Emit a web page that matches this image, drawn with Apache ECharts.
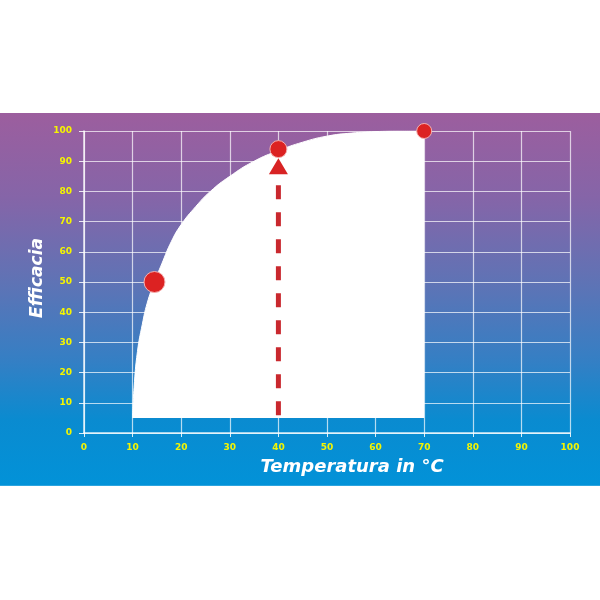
<!DOCTYPE html>
<html><head><meta charset="utf-8">
<script src="https://cdn.jsdelivr.net/npm/echarts@6/dist/echarts.min.js"></script>
<style>html,body{margin:0;padding:0;background:#fff}#c{width:600px;height:600px}</style>
</head><body><div id="c"></div>
<script>
var xTicks = [0,10,20,30,40,50,60,70,80,90,100];
var yTicks = [0,10,20,30,40,50,60,70,80,90,100];
var curveX = [10, 10.3, 11, 12, 13, 14.5, 16, 18, 20, 23, 26, 30, 35, 40, 45, 50, 55, 60, 65, 70];
var curveY = [5, 15, 27, 36, 43, 50, 56, 63.5, 69, 75, 80, 85, 90, 93.5, 96.3, 98.3, 99.3, 99.8, 100, 100];
var dotX = [14.5, 40, 70];
var dotY = [50, 94, 100];
var dotSize = [21, 17, 15];
var arrowX = [40, 40];
var arrowY = [82, 5];
var arrowHeadY = 88.3;
var curveBase = 5;

var chart = echarts.init(document.getElementById('c'));
var curve = curveX.map(function(x,i){return [x, curveY[i]];});
var dots = dotX.map(function(x,i){return {value:[x, dotY[i]], symbolSize: dotSize[i]};});
var arrow = arrowX.map(function(x,i){return [x, arrowY[i]];});
var labelStyle = {color:'#f5f500', fontSize:9, fontWeight:'bold', fontFamily:'DejaVu Sans'};
chart.setOption({
  backgroundColor: {type:'linear', x:0, y:0, x2:0, y2:1, colorStops:[
    {offset:0, color:'#ffffff'}, {offset:0.188, color:'#ffffff'},
    {offset:0.1885, color:'#9c5e9e'}, {offset:0.33, color:'#8565a8'},
    {offset:0.47, color:'#5f73b5'}, {offset:0.6, color:'#357fc4'},
    {offset:0.7, color:'#0a8bd0'}, {offset:0.809, color:'#0292d8'},
    {offset:0.81, color:'#ffffff'}, {offset:1, color:'#ffffff'}]},
  animation:false,
  grid:{left:84, right:30, top:131, bottom:167},
  xAxis:{type:'value', min:0, max:100, interval:10,
    axisLine:{show:true, lineStyle:{color:'rgba(255,255,255,0.85)', width:1.5}},
    axisTick:{show:true, length:4, lineStyle:{color:'rgba(255,255,255,0.85)'}},
    splitLine:{show:true, lineStyle:{color:'rgba(255,255,255,0.7)', width:1.2}},
    axisLabel:Object.assign({margin:10, formatter:function(v){return xTicks.indexOf(v)>=0?String(v):'';}}, labelStyle)},
  yAxis:{type:'value', min:0, max:100, interval:10,
    axisLine:{show:true, lineStyle:{color:'rgba(255,255,255,0.85)', width:1.5}},
    axisTick:{show:true, length:5, lineStyle:{color:'rgba(255,255,255,0.85)'}},
    splitLine:{show:true, lineStyle:{color:'rgba(255,255,255,0.7)', width:1.2}},
    axisLabel:Object.assign({margin:12, formatter:function(v){return yTicks.indexOf(v)>=0?String(v):'';}}, labelStyle)},
  graphic:[
    {type:'text', rotation:Math.PI/2, x:38, y:278, z:10, style:{text:'Efficacia', fill:'#ffffff', font:'italic bold 17px "DejaVu Sans"', align:'center', verticalAlign:'middle'}},
    {type:'text', x:352, y:467, z:10, style:{text:'Temperatura in °C', fill:'#ffffff', font:'italic bold 18px "DejaVu Sans"', align:'center', verticalAlign:'middle'}}
  ],
  series:[
    {type:'line', data:curve, smooth:0.5, showSymbol:false, symbol:'none', z:3,
     lineStyle:{color:'#ffffff', width:1}, areaStyle:{color:'#ffffff', opacity:1, origin:curveBase}},
    {type:'line', data:arrow, showSymbol:false, symbol:'none', z:4,
     lineStyle:{color:'#c9282e', width:5, type:[14,13]}},
    {type:'scatter', data:[[40, arrowHeadY]], symbol:'triangle', symbolSize:[19,16], z:5,
     itemStyle:{color:'#d82324', opacity:1}},
    {type:'scatter', data:dots, symbol:'circle', z:6,
     itemStyle:{color:'#dc2222', borderColor:'#f4b0b0', borderWidth:1, opacity:1}}
  ]
});
</script></body></html>
